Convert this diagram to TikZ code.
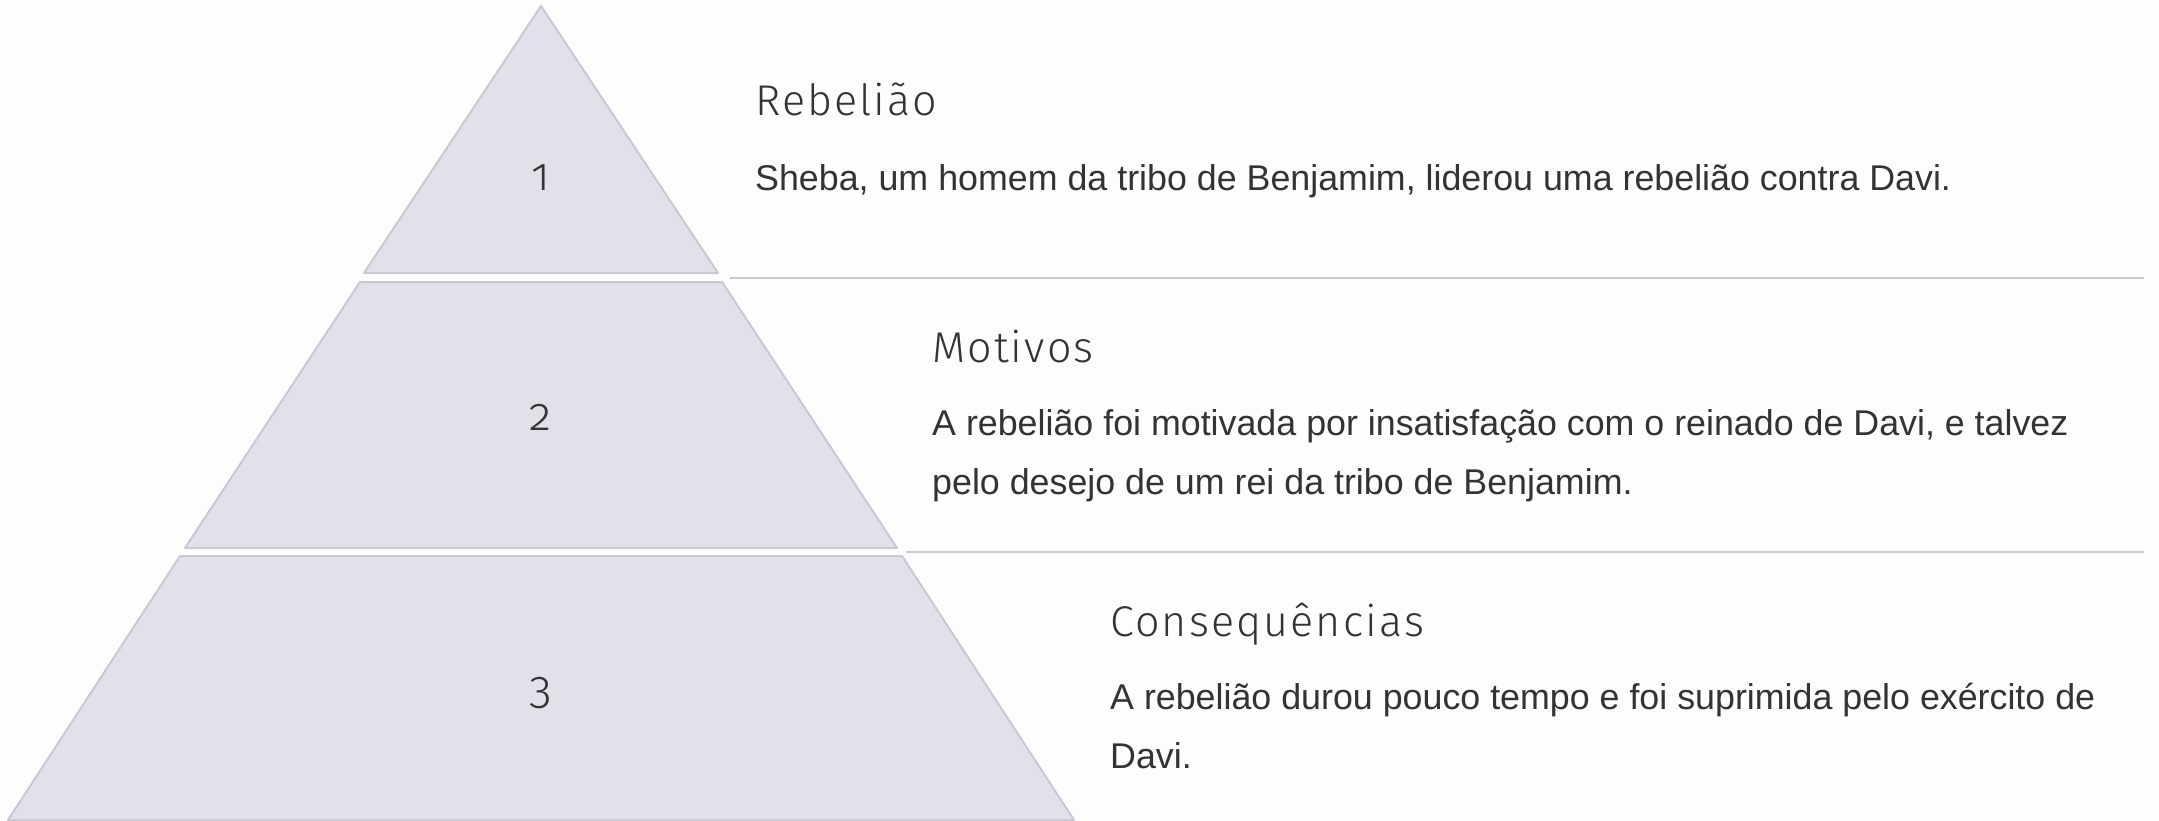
\documentclass[tikz,border=0pt]{standalone}
\usepackage{fontspec}
\setmainfont{Liberation Sans}
\newfontfamily\headfont{Fira Sans Light}[Numbers=OldStyle, LetterSpace=5.0]
\usetikzlibrary{positioning}
\definecolor{bgc}{HTML}{FDFDFD}
\definecolor{tierfill}{HTML}{E0E1E9}
\definecolor{tierline}{HTML}{C8C9D3}
\definecolor{txt}{HTML}{333333}
\tikzset{
	tier/.style={fill=tierfill, draw=tierline, line width=2pt, line join=round},
	sepline/.style={draw=tierline, line width=2pt},
	num/.style={anchor=base, inner sep=0pt, text=txt, font=\headfont\fontsize{46}{46}\selectfont},
	heading/.style={anchor=base west, inner sep=0pt, text=txt, font=\headfont\fontsize{43}{43}\selectfont},
	body/.style={anchor=base west, inner sep=0pt, align=left, text=txt, font=\fontsize{35.8}{59}\selectfont}
}
\begin{document}
\begin{tikzpicture}[x=1pt, y=-1pt]
	\useasboundingbox (0,0) rectangle (2159,821);
	\fill[bgc] (0,0) rectangle (2159,821);
	% pyramid tiers: number / top / bottom / half widths / baseline of the number
	\foreach \n/\t/\b/\ht/\hb/\c in {1/6/273/0/177/190, 2/282/548/181/356/430, 3/556/820/361/533/703}{
		\draw[tier] (541-\ht,\t) -- (541+\ht,\t) -- (541+\hb,\b) -- (541-\hb,\b) -- cycle;
		\node[num] (num\n) at (541,\c) {\n};
	}
	\draw[sepline] (730,278) -- (2144,278);
	\draw[sepline] (906,552) -- (2144,552);
	% texts (a body of two lines is placed by its last baseline)
	\node[heading] (head1) at (755,116) {Rebelião};
	\node[body] (body1) at (755,191) {Sheba, um homem da tribo de Benjamim, liderou uma rebelião contra Davi.};
	\node[heading] (head2) at (932,362) {Motivos};
	\node[body] (body2) at (932,494) {A rebelião foi motivada por insatisfação com o reinado de Davi, e talvez\\pelo desejo de um rei da tribo de Benjamim.};
	\node[heading] (head3) at (1110,636) {Consequências};
	\node[body] (body3) at (1110,768) {A rebelião durou pouco tempo e foi suprimida pelo exército de\\Davi.};
\end{tikzpicture}
\end{document}
